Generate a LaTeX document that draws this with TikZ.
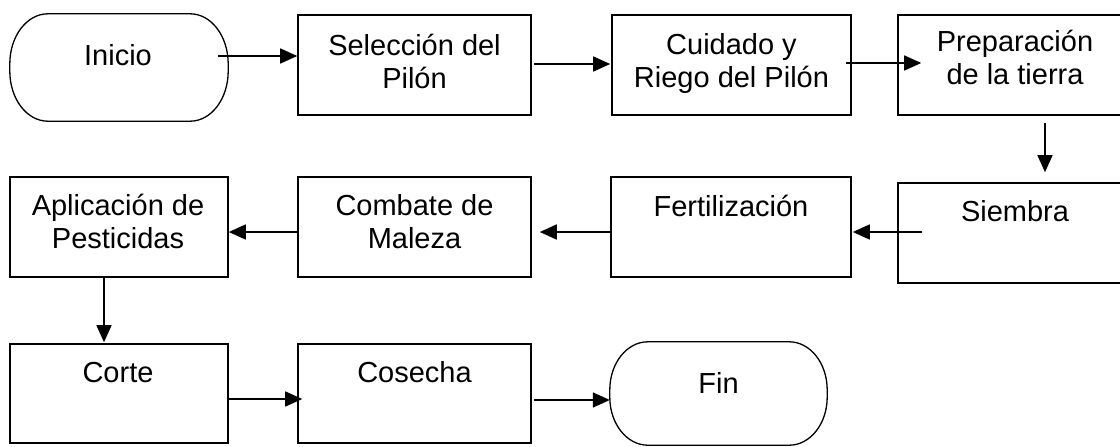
\documentclass[tikz,border=0pt]{standalone}
\usepackage{fontspec}
\setmainfont{Liberation Sans}
\usetikzlibrary{arrows.meta}
\newcommand\stadiumoutline[3]{% node name, x radius, y radius
  \draw[line width=1.3pt] ([xshift=#2]#1.north west) -- ([xshift=-#2]#1.north east)
    arc[start angle=90,end angle=0,x radius=#2,y radius=#3]
    -- ([yshift=#3]#1.south east)
    arc[start angle=0,end angle=-90,x radius=#2,y radius=#3]
    -- ([xshift=#2]#1.south west)
    arc[start angle=270,end angle=180,x radius=#2,y radius=#3]
    -- ([yshift=-#3]#1.north west)
    arc[start angle=180,end angle=90,x radius=#2,y radius=#3] -- cycle;}
\begin{document}
\begin{tikzpicture}[x=1pt,y=-1pt,
  box/.style={draw, rectangle, line width=1.6pt, inner sep=0pt, minimum height=100pt},
  stadium/.style={rectangle, inner sep=0pt},
  txt/.style={font=\fontsize{29}{33}\selectfont, align=center, anchor=base, inner sep=0pt},
  arr/.style={-{Triangle[length=17pt,width=15pt]}, line width=1.6pt}]
\useasboundingbox (0,0) rectangle (1120,447);
% shapes
\node[stadium, minimum width=218pt, minimum height=107pt] (ini) at (119,67.5) {};
\stadiumoutline{ini}{38pt}{50pt}
\node[box, minimum width=233pt] (sel) at (414.5,65) {};
\node[box, minimum width=239pt] (cui) at (731.5,65) {};
\node[box, minimum width=234pt] (prep) at (1015,65) {};
\node[box, minimum width=234pt] (siem) at (1015,233) {};
\node[box, minimum width=240pt] (fert) at (731,227) {};
\node[box, minimum width=233pt] (comb) at (414.5,227) {};
\node[box, minimum width=218pt] (apl) at (119,227) {};
\node[box, minimum width=218pt, minimum height=99pt] (corte) at (119,393.5) {};
\node[box, minimum width=233pt, minimum height=99pt] (cos) at (414.5,393.5) {};
\node[stadium, minimum width=217pt, minimum height=103pt] (fin) at (718.5,393.5) {};
\stadiumoutline{fin}{38pt}{48pt}
% texts
\node[txt] (iniT) at (118,65) {Inicio};
\node[txt] (selT) at (414.5,88) {Selección del\\Pilón};
\node[txt] (cuiT) at (731.5,87.5) {Cuidado y\\Riego del Pilón};
\node[txt] (prepT) at (1015,84) {Preparación\\de la tierra};
\node[txt] (siemT) at (1015,221) {Siembra};
\node[txt] (fertT) at (731,216) {Fertilización};
\node[txt] (combT) at (414.5,248) {Combate de\\Maleza};
\node[txt] (aplT) at (118,248) {Aplicación de\\Pesticidas};
\node[txt] (corteT) at (118,382) {Corte};
\node[txt] (cosT) at (414.5,382) {Cosecha};
\node[txt] (finT) at (718.5,393) {Fin};
% connectors
\draw[arr] ([shift={(-10,-11.5)}]ini.east) -- ([shift={(0,-9)}]sel.west);
\draw[arr] ([shift={(2,-1)}]sel.east) -- ([shift={(-1,-1)}]cui.west);
\draw[arr] ([shift={(-6,-2)}]cui.east) -- ([shift={(24,-2)}]prep.west);
\draw[arr] ([shift={(30,7)}]prep.south) -- ([shift={(30,-10)}]siem.north);
\draw[arr] ([shift={(25,-1)}]siem.west) -- ([shift={(1,5)}]fert.east);
\draw[arr] ([shift={(0,5)}]fert.west) -- ([shift={(8,5)}]comb.east);
\draw[arr] ([shift={(0,5)}]comb.west) -- ([shift={(0,5)}]apl.east);
\draw[arr] ([shift={(-15,-2)}]apl.south) -- ([shift={(-15,-1)}]corte.north);
\draw[arr] ([shift={(0,5.5)}]corte.east) -- ([shift={(5,5.5)}]cos.west);
\draw[arr] ([shift={(2,6.5)}]cos.east) -- ([shift={(0,6.5)}]fin.west);
\end{tikzpicture}
\end{document}
